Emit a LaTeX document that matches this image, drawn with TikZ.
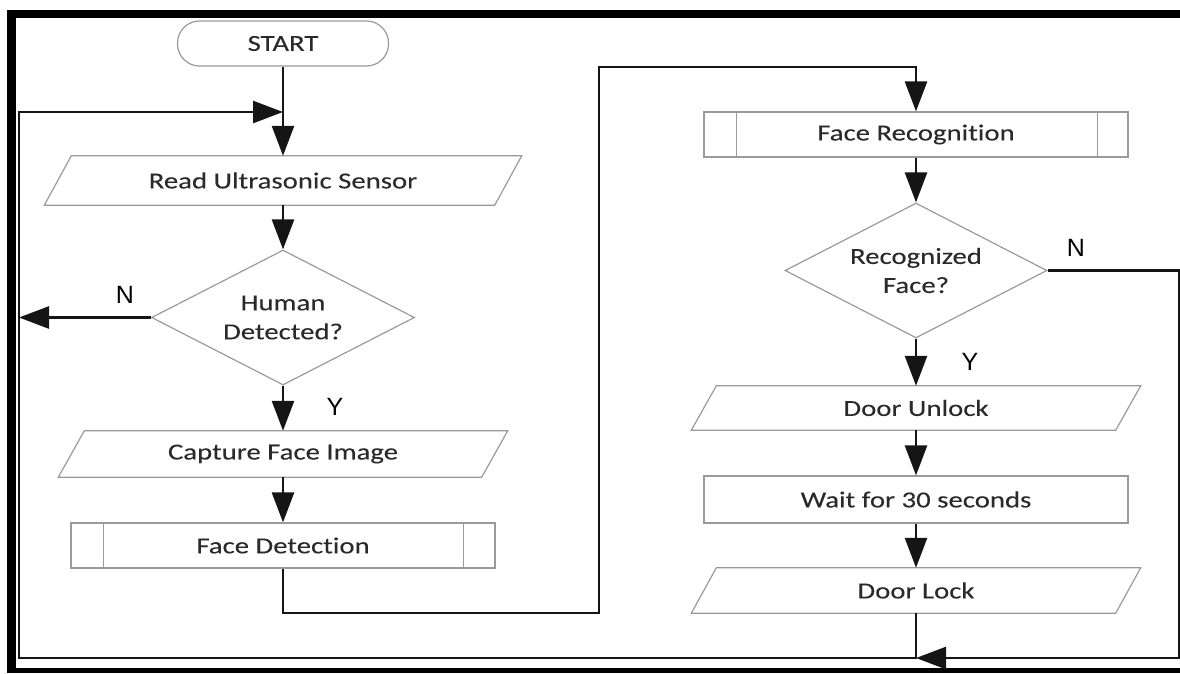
\documentclass[tikz,border=0pt]{standalone}
\usepackage{fontspec}
\setmainfont{Carlito}[FakeStretch=1.25,Ligatures={NoCommon},FakeBold=0.1]
\newfontfamily\lblfont{Liberation Sans}
\usetikzlibrary{shapes.geometric,arrows.meta}
\definecolor{shapegray}{HTML}{9A9A9A}
\definecolor{textgray}{HTML}{2A2A2A}
\definecolor{linecol}{HTML}{151515}
\begin{document}
\begin{tikzpicture}[x=1pt,y=-1pt,
  outline/.style={draw=shapegray,line width=1.2pt},
  boxbase/.style={inner sep=0pt,text=textgray,font=\fontsize{23}{29}\selectfont,align=center},
  rectbox/.style={boxbase,outline,rectangle,minimum width=424pt,minimum height=46pt},
  parabox/.style={boxbase,rectangle,minimum width=424pt,minimum height=46pt},
  decbox/.style={boxbase,outline,diamond,aspect=1.95,minimum width=263pt,minimum height=135pt},
  termbox/.style={boxbase,outline,rectangle,rounded corners=22pt,minimum width=211pt,minimum height=45pt},
  flow/.style={line width=2.6pt,draw=linecol,-{Triangle[length=30pt,width=22pt]}},
  lbl/.style={text=black,font=\lblfont\fontsize{25}{25}\selectfont,inner sep=0pt}
]
\useasboundingbox (0,0) rectangle (1180,673);
% frame
\fill[black] (7,10) rectangle (1180,18);
\fill[black] (7,10) rectangle (16,673);
\fill[black] (7,668) rectangle (1180,673);

% left column
\node[termbox] (start) at (283,43.5) {START};
\node[parabox,minimum width=450pt,minimum height=49pt] (read) at (283,180.5) {Read Ultrasonic Sensor};
\draw[outline] ([xshift=13.5pt]read.north west) -- ([xshift=13.5pt]read.north east) -- ([xshift=-13.5pt]read.south east) -- ([xshift=-13.5pt]read.south west) -- cycle;
\node[decbox] (hd) at (283,317.5) {Human\\Detected?};
\node[parabox,minimum width=423pt] (cap) at (283,454) {Capture Face Image};
\draw[outline] ([xshift=13pt]cap.north west) -- ([xshift=13pt]cap.north east) -- ([xshift=-13pt]cap.south east) -- ([xshift=-13pt]cap.south west) -- cycle;
\node[rectbox,minimum height=45pt] (fd) at (283,545.5) {Face Detection};
\draw[outline] ([xshift=33pt]fd.north west) -- ([xshift=33pt]fd.south west);
\draw[outline] ([xshift=-32pt]fd.north east) -- ([xshift=-32pt]fd.south east);

% right column
\node[rectbox,minimum height=45pt] (fr) at (916,134.5) {Face Recognition};
\draw[outline] ([xshift=33pt]fr.north west) -- ([xshift=33pt]fr.south west);
\draw[outline] ([xshift=-31pt]fr.north east) -- ([xshift=-31pt]fr.south east);
\node[decbox,minimum width=262pt] (rf) at (916,270.5) {Recognized\\Face?};
\node[parabox,minimum height=44pt] (du) at (916,408) {Door Unlock};
\draw[outline] ([xshift=12.5pt]du.north west) -- ([xshift=12.5pt]du.north east) -- ([xshift=-12.5pt]du.south east) -- ([xshift=-12.5pt]du.south west) -- cycle;
\node[rectbox,minimum height=47pt] (wt) at (916,499.5) {Wait for 30 seconds};
\node[parabox,minimum height=45pt] (dl) at (916,590.5) {Door Lock};
\draw[outline] ([xshift=12.5pt]dl.north west) -- ([xshift=12.5pt]dl.north east) -- ([xshift=-12.5pt]dl.south east) -- ([xshift=-12.5pt]dl.south west) -- cycle;

% coordinates
\coordinate (nl) at (19,317.5);
\coordinate (c1) at (599,613);
\coordinate (c2) at (599,67);
\coordinate (r1) at (1179,270.5);
\coordinate (r2) at (1179,658);
\coordinate (join) at (916,658);
\coordinate (lb) at (19,658);
\coordinate (lt) at (19,112);
\coordinate (ent) at (283,112);

% connectors
\draw[flow] (start.south) -- (read.north);
\draw[flow] (read.south) -- (hd.north);
\draw[flow] (hd.west) -- (nl);
\draw[flow] (hd.south) -- (cap.north);
\draw[flow] (cap.south) -- (fd.north);
\draw[flow] (fd.south) |- (c1) -- (c2) -| (fr.north);
\draw[flow] (fr.south) -- (rf.north);
\draw[flow] (rf.south) -- (du.north);
\draw[flow] (du.south) -- (wt.north);
\draw[flow] (wt.south) -- (dl.north);
\draw[flow] (rf.east) -- (r1) -- (r2) -- (join);
\draw[flow] (dl.south) -- (join) -- (lb) -- (lt) -- (ent);

% labels
\node[lbl] (n1) at (125,295) {N};
\node[lbl] (y1) at (335,407) {Y};
\node[lbl] (n2) at (1076,248) {N};
\node[lbl] (y2) at (970,362) {Y};
\end{tikzpicture}
\end{document}
